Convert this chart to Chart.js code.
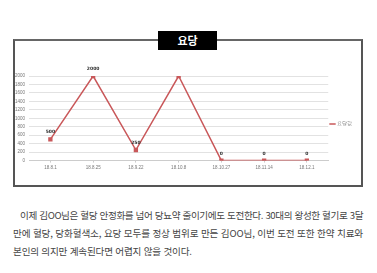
<!DOCTYPE html>
<html lang="ko">
<head>
  <meta charset="UTF-8" />
  <title>요당</title>
  <script src="https://cdn.jsdelivr.net/npm/chart.js"></script>
  <style>
    html, body { margin: 0; padding: 0; background: #fff; }
    body { width: 377px; height: 273px; position: relative; overflow: hidden; font-family: "Noto Sans CJK KR", "Noto Sans", sans-serif; }
    .box {
      position: absolute; left: 13px; top: 39px; width: 346px; height: 144px;
      border: 2px solid #555; border-top-color: #666;
    }
    .title {
      position: absolute; left: 158px; top: 31px; width: 59px; height: 19px;
      background: #000; color: #fff; font-weight: bold; font-size: 11px;
      text-align: center; line-height: 19px;
    }
    .chartWrap { position: absolute; left: 11px; top: 64px; width: 351px; height: 108px; }
    .text {
      position: absolute; left: 13px; top: 206px; width: 364px;
      font-size: 9.6px; line-height: 18px; color: #444; white-space: nowrap;
    }
    .l1 { padding-left: 7px; letter-spacing: -0.38px; }
    .l2 { letter-spacing: -0.14px; }
    .l3 { letter-spacing: -0.2px; }
  </style>
</head>
<body>
  <div class="box"></div>
  <div class="title">요당</div>
  <div class="chartWrap"><canvas id="urineChart"></canvas></div>
  <div class="text">
    <span class="l1">이제 김OO님은 혈당 안정화를 넘어 당뇨약 줄이기에도 도전한다. 30대의 왕성한 혈기로 3달</span><br>
    <span class="l2">만에 혈당, 당화혈색소, 요당 모두를 정상 범위로 만든 김OO님, 이번 도전 또한 한약 치료와</span><br>
    <span class="l3">본인의 의지만 계속된다면 어렵지 않을 것이다.</span>
  </div>

  <script>
    const dates = ["18.8.1", "18.8.25", "18.9.22", "18.10.8", "18.10.27", "18.11.14", "18.12.1"];
    const urineSugar = [500, 2000, 250, 2000, 0, 0, 0];
    const showValue = [true, true, true, false, true, true, true];
    const seriesName = "요당값";

    // simple value labels above points
    const valueLabels = {
      id: "valueLabels",
      afterDatasetsDraw(chart) {
        const ctx = chart.ctx;
        const meta = chart.getDatasetMeta(0);
        ctx.save();
        ctx.font = "bold 4.5px 'DejaVu Sans', sans-serif";
        ctx.fillStyle = "#333";
        ctx.textAlign = "center";
        ctx.textBaseline = "bottom";
        meta.data.forEach((pt, i) => {
          if (!showValue[i]) return;
          ctx.fillText(urineSugar[i], pt.x, pt.y - 5);
        });
        ctx.restore();
      }
    };

    new Chart(document.getElementById("urineChart"), {
      type: "line",
      data: {
        labels: dates,
        datasets: [{
          label: seriesName,
          data: urineSugar,
          borderColor: "#c9585a",
          backgroundColor: "#c9585a",
          borderWidth: 1.5,
          pointStyle: "rect",
          pointRadius: 2,
          tension: 0
        }]
      },
      options: {
        responsive: true,
        maintainAspectRatio: false,
        animation: false,
        layout: { padding: { top: 12, bottom: 0, left: 0, right: 0 } },
        scales: {
          x: {
            offset: true,
            grid: { display: true, drawOnChartArea: false, drawTicks: true, tickLength: 2, color: "#ccc" },
            border: { color: "#ccc" },
            ticks: { font: { size: 4.5 }, color: "#777", padding: 2 }
          },
          y: {
            min: 0, max: 2000,
            ticks: {
              stepSize: 200, autoSkip: false, font: { size: 4.5 }, color: "#777", padding: 4,
              callback: v => String(v)
            },
            grid: { color: "#e2e2e2", drawTicks: false },
            border: { display: false }
          }
        },
        plugins: {
          legend: {
            position: "right",
            labels: {
              usePointStyle: true, pointStyle: "line", boxWidth: 8,
              font: { size: 4.5 }, color: "#777", padding: 2
            }
          },
          tooltip: { enabled: false }
        }
      },
      plugins: [valueLabels]
    });
  </script>
</body>
</html>
